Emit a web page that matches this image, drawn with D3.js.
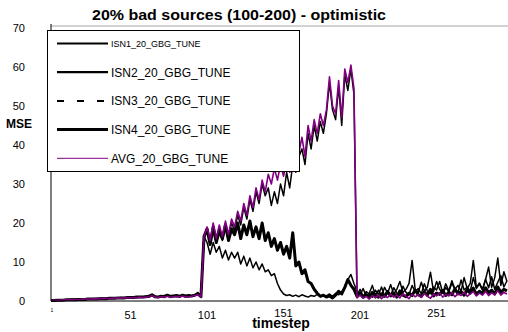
<!DOCTYPE html>
<html>
<head>
<meta charset="utf-8">
<script src="https://cdn.jsdelivr.net/npm/d3@7"></script>
<style>
  body { margin: 0; background: #fff; }
  text { font-family: "Liberation Sans", Arial, sans-serif; }
</style>
</head>
<body>
<div id="chart"></div>
<script>
// timesteps sampled every 2 steps
const timesteps = d3.range(1, 300, 2);

const isn1 = [
  0.2,0.2,0.3,0.2,0.3,0.3,0.4,0.3,0.4,0.4,
  0.5,0.4,0.5,0.6,0.5,0.6,0.6,0.7,0.6,0.7,
  0.8,0.7,0.8,0.8,0.9,0.8,0.9,1.0,0.9,1.0,
  1.1,1.0,1.2,1.5,1.1,1.0,1.2,1.4,1.3,1.0,
  1.2,1.1,1.3,1.2,1.0,1.4,1.2,1.5,1.9,1.1,
  16,18,15,19,16.5,18.5,15.5,19,16.5,20,
  18,22,19.5,24,21,26,23,28,25,30,
  27,29,24.5,28,25,30,27,33,29,35,
  33,37,39,35,43,39,45,41,46,43,
  48,56,49,46.5,55,45,58,54,59.5,53,
  1.5,3.0,1.2,2.4,1.8,1.0,2.8,1.6,3.6,1.3,
  2.6,1.5,3.4,2.0,1.4,3.8,2.2,1.6,4.0,2.3,
  3.2,1.8,4.4,2.5,1.9,3.6,2.8,5.0,2.1,3.4,
  2.4,4.6,3.0,2.2,5.4,2.8,3.6,2.5,6.0,3.2,
  4.4,2.8,5.6,3.4,6.2,3.0,4.8,6.5,3.6,5.2
];

const isn2 = [
  0.1,0.2,0.2,0.2,0.3,0.3,0.3,0.4,0.4,0.4,
  0.5,0.5,0.5,0.6,0.6,0.6,0.7,0.6,0.7,0.7,
  0.8,0.7,0.8,0.9,0.8,0.9,1.0,0.9,1.0,1.1,
  1.0,1.2,1.1,1.3,1.0,1.1,1.3,1.2,1.4,1.1,
  1.2,1.3,1.1,1.4,1.2,1.3,1.2,1.6,2.2,1.0,
  16.5,15,12,15,12.5,14,11,13,10.5,12.5,
  11,12.5,9.5,11.5,9,11,8.5,10,8,9.5,
  7.5,8,6.5,7,4.5,2.8,1.8,1.4,1.6,1.2,
  1.5,1.1,1.6,1.3,1.0,1.4,1.2,1.7,1.1,1.5,
  1.3,1.8,1.2,2.0,1.6,2.4,3.5,5.5,6.8,4.5,
  2.5,1.5,3.2,1.2,2.0,4.0,1.5,2.8,1.3,3.5,
  2.0,4.2,1.8,3.0,5.0,2.2,3.0,4.5,10.4,3.0,
  2.2,4.8,2.5,3.6,7.4,2.4,5.0,3.0,2.0,4.4,
  2.6,5.2,3.0,4.0,2.5,6.0,3.2,4.5,10.4,3.5,
  4.6,3.0,5.5,8.7,3.5,6.0,11.0,4.0,7.5,5.0
];

const isn3 = [
  0.1,0.2,0.2,0.2,0.3,0.3,0.3,0.3,0.4,0.4,
  0.4,0.5,0.5,0.5,0.5,0.6,0.6,0.6,0.7,0.7,
  0.7,0.8,0.8,0.8,0.9,0.9,0.9,1.0,1.0,1.0,
  1.1,1.1,1.2,1.5,1.1,1.1,1.2,1.2,1.4,1.2,
  1.3,1.3,1.2,1.4,1.3,1.4,1.3,1.5,1.7,1.1,
  16.5,18,15,18.5,15.5,18,16.5,19,16,18.5,
  17,19.5,16.5,19,17,20,17,19,16.5,19.5,
  15.5,17,14.5,16,13.5,15,12.5,14,11.5,17,
  9,9.5,7,7.5,5,4.5,3,2.2,1.4,1.5,
  1.1,1.4,1.0,1.6,2.4,1.9,3.4,5.2,4.2,3.1,
  1.3,1.9,1.1,1.7,1.0,2.1,1.5,1.1,1.9,1.3,
  2.3,1.4,2.0,1.1,2.5,1.6,1.2,2.1,1.5,2.7,
  1.7,1.3,2.2,1.6,2.9,1.4,2.1,1.8,2.6,1.5,
  2.3,1.7,3.0,1.9,2.5,1.6,2.8,2.1,3.2,1.8,
  2.6,2.0,3.3,2.2,2.9,1.9,3.5,2.3,3.1,2.7
];

const isn4 = [
  0.1,0.1,0.2,0.2,0.2,0.3,0.3,0.3,0.3,0.4,
  0.4,0.4,0.5,0.5,0.5,0.5,0.6,0.6,0.6,0.7,
  0.7,0.7,0.8,0.8,0.8,0.9,0.9,0.9,1.0,1.0,
  1.0,1.1,1.2,1.6,1.1,1.0,1.2,1.1,1.5,1.2,
  1.3,1.4,1.2,1.5,1.3,1.4,1.3,1.5,1.8,1.1,
  16.5,18.5,14.5,19,15,18,16,19.5,15.5,18.5,
  17,20,16,19.5,17,20.5,16.5,19,16,20,
  15.5,17.5,14,16,13,15,12,14,11,17.5,
  9,10,7,8,5,4.5,3,2,1.2,1.5,
  1,1.3,0.8,1.5,2.5,1.8,3.5,5.5,4,3,
  1.2,2.0,1.0,1.6,0.9,2.2,1.4,1.0,1.8,1.2,
  2.4,1.3,1.9,1.0,2.6,1.5,1.1,2.0,1.4,2.8,
  1.6,1.2,2.3,1.5,3.0,1.3,2.0,1.7,2.7,1.4,
  2.2,1.6,3.1,1.8,2.4,1.5,2.9,2.0,3.3,1.7,
  2.5,1.9,3.4,2.1,2.8,1.8,3.6,2.2,3.0,2.6
];

const avg = [
  0.2,0.2,0.2,0.2,0.3,0.3,0.3,0.3,0.4,0.4,
  0.4,0.5,0.5,0.5,0.6,0.5,0.6,0.6,0.7,0.6,
  0.7,0.7,0.8,0.7,0.8,0.9,0.8,0.9,0.8,1.0,
  0.9,1.0,1.1,1.4,1.0,0.9,1.1,1.0,1.2,0.9,
  1.1,1.2,1.0,1.3,1.1,1.0,1.2,1.4,1.6,1.0,
  16.5,19,15.5,20,16,19.5,16.5,20.5,17,21,
  19,23,20.5,25,22,27,24,29,26,31,
  28,32.5,30,34,31,35,32,36,33,37,
  34,38,42,37,45,41,46.5,43,48,45,
  49,57.5,50,48,56.5,47,59.5,56,60.5,54.5,
  0.8,1.5,0.7,1.2,0.5,1.4,0.8,1.6,0.6,1.3,
  0.9,1.8,1.0,1.5,0.8,1.9,1.2,0.6,1.7,1.1,
  1.6,0.9,2.0,1.2,0.7,1.8,1.3,2.1,1.0,1.7,
  1.3,2.2,1.1,1.9,1.4,2.3,1.2,1.8,2.4,1.3,
  2.0,1.5,2.5,1.4,2.1,1.6,2.6,1.5,2.2,1.8
];

const seriesNames = ["ISN1_20_GBG_TUNE", "ISN2_20_GBG_TUNE", "ISN3_20_GBG_TUNE", "ISN4_20_GBG_TUNE", "AVG_20_GBG_TUNE"];
const yTicks = [0, 10, 20, 30, 40, 50, 60, 70];
const xTicks = [1, 51, 101, 151, 201, 251];

(function () {
    const width = 508;
    const height = 332;

    const series = [
        {name: seriesNames[0], values: isn1, color: "#000", w: 1.5, dash: null, legendW: 2, font: 9},
        {name: seriesNames[1], values: isn2, color: "#000", w: 1.5, dash: null, legendW: 2.3, font: 12},
        {name: seriesNames[2], values: isn3, color: "#000", w: 2, dash: "7,13", legendW: 2, font: 12},
        {name: seriesNames[3], values: isn4, color: "#000", w: 3, dash: null, legendW: 3, font: 12},
        {name: seriesNames[4], values: avg, color: "#800080", w: 1.6, dash: null, legendW: 1, font: 12}
    ];

    const x = d3.scaleLinear().domain([1, 300]).range([51, 508.5]);
    const y = d3.scaleLinear().domain([0, 70]).range([301, 28]);

    const svg = d3.select("#chart")
        .append("svg")
        .attr("width", width)
        .attr("height", height);

    // title (stretched like the original export)
    svg.append("text")
        .attr("x", 92)
        .attr("y", 19.5)
        .attr("font-size", "14px")
        .attr("font-weight", "bold")
        .attr("textLength", 294)
        .attr("lengthAdjust", "spacingAndGlyphs")
        .text("20% bad sources (100-200) - optimistic");

    // plot frame top
    svg.append("line")
        .attr("x1", 51).attr("x2", width)
        .attr("y1", 26).attr("y2", 26)
        .attr("stroke", "#a6a6a6");

    // lines
    const line = d3.line()
        .x((d, i) => x(timesteps[i]))
        .y(d => y(d));

    series.forEach(s => {
        svg.append("path")
            .attr("d", line(s.values))
            .attr("fill", "none")
            .attr("stroke", s.color)
            .attr("stroke-width", s.w)
            .attr("stroke-dasharray", s.dash)
            .attr("stroke-linejoin", "round");
    });

    // axes
    const yAxis = svg.append("g");
    yAxis.append("line")
        .attr("x1", 51).attr("x2", 51)
        .attr("y1", 24).attr("y2", 301)
        .attr("stroke", "#000");
    yAxis.selectAll("text")
        .data(yTicks)
        .join("text")
        .attr("x", 25)
        .attr("y", d => y(d) + 4)
        .attr("text-anchor", "end")
        .attr("font-size", "11px")
        .text(d => d);

    const xAxis = svg.append("g");
    xAxis.append("line")
        .attr("x1", 51).attr("x2", width)
        .attr("y1", 301).attr("y2", 301)
        .attr("stroke", "#000");
    xAxis.selectAll("text")
        .data(xTicks)
        .join("text")
        .attr("x", d => d === 1 ? x(d) + 1 : x(d) + 3)
        .attr("y", d => d === 1 ? 312 : (d === 151 || d === 251 ? 316.5 : 318.5))
        .attr("text-anchor", "middle")
        .attr("font-size", d => d === 1 ? "5px" : "11px")
        .text(d => d);

    svg.append("text")
        .attr("x", 19)
        .attr("y", 128)
        .attr("text-anchor", "middle")
        .attr("font-size", "12px")
        .attr("font-weight", "bold")
        .text("MSE");

    svg.append("text")
        .attr("x", 281)
        .attr("y", 327.5)
        .attr("text-anchor", "middle")
        .attr("font-size", "14px")
        .attr("font-weight", "bold")
        .text("timestep");

    // legend
    const legend = svg.append("g");
    legend.append("rect")
        .attr("x", 47.5).attr("y", 30.5)
        .attr("width", 252).attr("height", 141)
        .attr("fill", "#fff")
        .attr("stroke", "#000");
    series.forEach((s, i) => {
        const ly = 43.5 + i * 28.7;
        legend.append("line")
            .attr("x1", 57).attr("x2", 108)
            .attr("y1", ly).attr("y2", ly)
            .attr("stroke", s.color)
            .attr("stroke-width", s.legendW)
            .attr("stroke-dasharray", s.dash);
        legend.append("text")
            .attr("x", 111)
            .attr("y", ly + s.font * 0.36)
            .attr("font-size", s.font + "px")
            .text(s.name);
    });
})();
</script>
</body>
</html>
